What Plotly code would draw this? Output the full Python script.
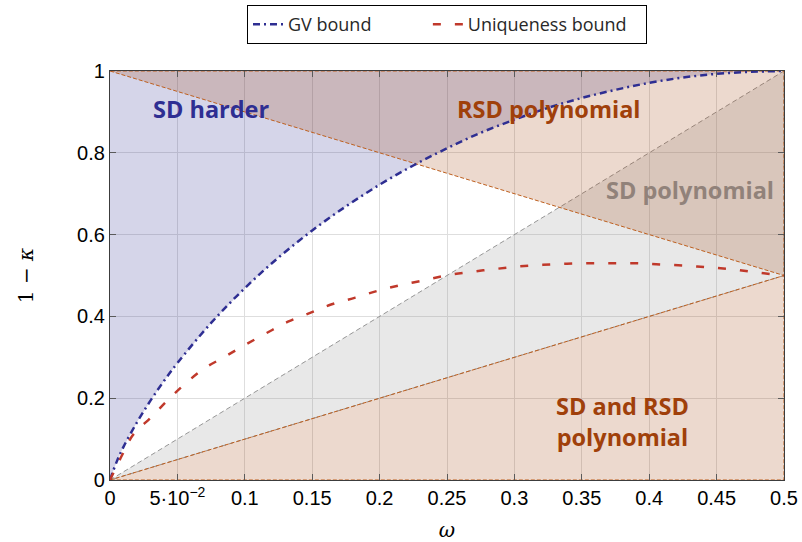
import plotly.graph_objects as go

# GV bound
gv_x = [0, 0.005, 0.01, 0.02, 0.03, 0.04, 0.05, 0.075, 0.1, 0.125, 0.15, 0.175, 0.2, 0.225, 0.25, 0.275,
        0.3, 0.325, 0.35, 0.375, 0.4, 0.425, 0.45, 0.475, 0.5]
gv_y = [0, 0.045, 0.081, 0.141, 0.194, 0.242, 0.286, 0.384, 0.469, 0.544, 0.61, 0.669, 0.722, 0.769,
        0.811, 0.849, 0.881, 0.91, 0.934, 0.954, 0.971, 0.984, 0.993, 0.998, 1.0]

# Uniqueness bound
un_x = [0, 0.009, 0.017, 0.031, 0.043, 0.056, 0.07, 0.085, 0.1, 0.116, 0.132, 0.148, 0.164, 0.182,
        0.199, 0.216, 0.234, 0.251, 0.268, 0.286, 0.303, 0.321, 0.339, 0.357, 0.375, 0.392, 0.409,
        0.427, 0.444, 0.462, 0.481, 0.5]
un_y = [0, 0.061, 0.11, 0.155, 0.196, 0.236, 0.273, 0.301, 0.33, 0.359, 0.387, 0.408, 0.429, 0.446,
        0.463, 0.477, 0.489, 0.501, 0.509, 0.516, 0.522, 0.526, 0.529, 0.53, 0.53, 0.53, 0.527,
        0.524, 0.52, 0.515, 0.507, 0.5]

# Region vertices
rsd_top_x = [0, 0.5, 0.5, 0]
rsd_top_y = [1, 0.5, 1, 1]
sd_poly_x = [0, 0.5, 0.5, 0]
sd_poly_y = [0, 1, 0.5, 0]
both_x = [0, 0.5, 0.5, 0]
both_y = [0, 0.5, 0, 0]

x_ticks = [0, 0.05, 0.1, 0.15, 0.2, 0.25, 0.3, 0.35, 0.4, 0.45, 0.5]
x_ticktext = ["0", "5·10<sup>−2</sup>", "0.1", "0.15", "0.2", "0.25", "0.3", "0.35", "0.4", "0.45", "0.5"]
y_ticks = [0, 0.2, 0.4, 0.6, 0.8, 1]
y_ticktext = ["0", "0.2", "0.4", "0.6", "0.8", "1"]

BLUE = "rgb(46,46,146)"
BROWN = "rgb(160,64,10)"
RED = "rgb(192,57,43)"

fig = go.Figure()

# SD harder (above GV)
fig.add_trace(go.Scatter(x=gv_x + [0, 0], y=gv_y + [1, 0], fill="toself",
                         fillcolor="rgba(43,43,145,0.2)", line=dict(width=0),
                         mode="lines", showlegend=False, hoverinfo="skip"))
# SD polynomial (gray)
fig.add_trace(go.Scatter(x=sd_poly_x, y=sd_poly_y, fill="toself",
                         fillcolor="rgba(140,140,140,0.2)",
                         line=dict(color="rgb(150,150,150)", width=1, dash="5px,3px"),
                         mode="lines", showlegend=False, hoverinfo="skip"))
# RSD polynomial (top)
fig.add_trace(go.Scatter(x=rsd_top_x, y=rsd_top_y, fill="toself",
                         fillcolor="rgba(160,64,10,0.2)",
                         line=dict(color="rgb(190,95,30)", width=1, dash="4px,2px"),
                         mode="lines", showlegend=False, hoverinfo="skip"))
# SD and RSD polynomial (bottom)
fig.add_trace(go.Scatter(x=both_x, y=both_y, fill="toself",
                         fillcolor="rgba(160,64,10,0.2)",
                         line=dict(color="rgb(190,95,30)", width=1, dash="4px,2px"),
                         mode="lines", showlegend=False, hoverinfo="skip"))

fig.add_trace(go.Scatter(x=gv_x, y=gv_y, mode="lines", name="GV bound" + "\u00a0" * 11,
                         line=dict(color=BLUE, width=2.5, dash="7px,4px,2px,4px"),
                         line_shape="spline"))
fig.add_trace(go.Scatter(x=un_x, y=un_y, mode="lines", name="Uniqueness bound" + "\u00a0" * 3,
                         line=dict(color=RED, width=2.5, dash="8px,14px"),
                         line_shape="spline"))

lab_font = dict(family="Open Sans", size=23.5)
fig.add_annotation(x=0.075, y=0.907, text="<b>SD harder</b>", showarrow=False,
                   font=dict(lab_font, color=BLUE))
fig.add_annotation(x=0.326, y=0.907, text="<b>RSD polynomial</b>", showarrow=False,
                   font=dict(lab_font, color=BROWN))
fig.add_annotation(x=0.430, y=0.709, text="<b>SD polynomial</b>", showarrow=False,
                   font=dict(lab_font, color="rgb(145,130,122)"))
fig.add_annotation(x=0.380, y=0.142, text="<b>SD and RSD<br>polynomial</b>", showarrow=False,
                   font=dict(lab_font, color=BROWN))

axis_common = dict(showgrid=True, gridcolor="rgb(222,222,222)", gridwidth=1,
                   showline=True, linecolor="rgb(60,60,60)", linewidth=1.2, mirror="ticks",
                   ticks="inside", ticklen=6, tickcolor="rgb(90,90,90)", zeroline=False,
                   automargin=False,
                   tickfont=dict(family="Liberation Sans", size=20, color="black"))

fig.update_layout(
    width=802, height=542,
    margin=dict(l=110, r=18, t=71, b=62, autoexpand=False),
    plot_bgcolor="white", paper_bgcolor="white",
    xaxis=dict(axis_common, range=[0, 0.5], tickvals=x_ticks, ticktext=x_ticktext,
               title=dict(text="<i>ω</i>", font=dict(family="DejaVu Serif", size=20, color="black"),
                          standoff=18)),
    yaxis=dict(axis_common, range=[0, 1], tickvals=y_ticks, ticktext=y_ticktext,
               title=dict(text="1 − <i>κ</i>", font=dict(family="DejaVu Serif", size=20, color="black"),
                          standoff=38)),
    legend=dict(orientation="h", x=0.5, xanchor="center", y=1.161, yanchor="top",
                bordercolor="black", borderwidth=1, bgcolor="white",
                font=dict(family="Open Sans", size=18, color="rgb(40,40,40)")),
)

fig.write_html("out.html")
